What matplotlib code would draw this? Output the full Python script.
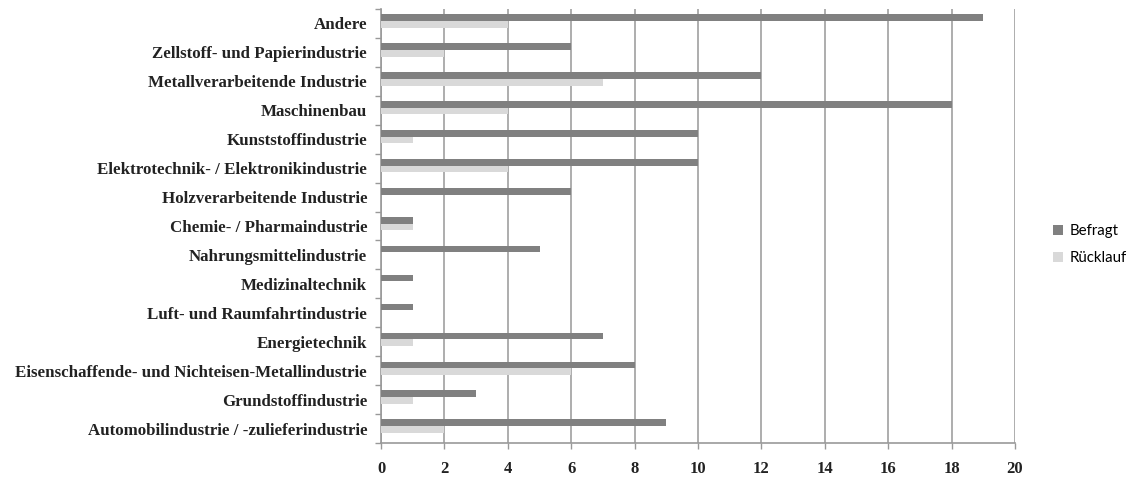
import matplotlib
matplotlib.use("Agg")
import matplotlib.pyplot as plt
import numpy as np

categories = [
    "Andere",
    "Zellstoff- und Papierindustrie",
    "Metallverarbeitende Industrie",
    "Maschinenbau",
    "Kunststoffindustrie",
    "Elektrotechnik- / Elektronikindustrie",
    "Holzverarbeitende Industrie",
    "Chemie- / Pharmaindustrie",
    "Nahrungsmittelindustrie",
    "Medizinaltechnik",
    "Luft- und Raumfahrtindustrie",
    "Energietechnik",
    "Eisenschaffende- und Nichteisen-Metallindustrie",
    "Grundstoffindustrie",
    "Automobilindustrie / -zulieferindustrie",
]
befragt = [19, 6, 12, 18, 10, 10, 6, 1, 5, 1, 1, 7, 8, 3, 9]
ruecklauf = [4, 2, 7, 4, 1, 4, 0, 1, 0, 0, 0, 1, 6, 1, 2]
xticks = [0, 2, 4, 6, 8, 10, 12, 14, 16, 18, 20]

fig = plt.figure(figsize=(11.33, 4.79), dpi=100)
ax = fig.add_axes([0.3363, 0.0752, 0.8959 - 0.3363, 0.9812 - 0.0752])

y = np.arange(len(categories))
h = 0.23
ax.barh(y - 0.2, befragt, height=h, color="#808080", label="Befragt", zorder=3)
ax.barh(y + 0.03, ruecklauf, height=h, color="#d9d9d9", label="Rücklauf", zorder=3)

ax.set_ylim(len(categories) - 0.5, -0.5)
ax.set_xlim(0, 20)
ax.set_xticks(xticks)
ax.set_xticklabels([str(t) for t in xticks], fontfamily="Liberation Serif",
                   fontweight="bold", fontsize=12, color="#222222")
ax.set_yticks(y)
ax.set_yticklabels(categories, fontfamily="Liberation Serif", fontweight="bold",
                   fontsize=12.2, color="#222222")
ax.tick_params(axis="y", which="major", length=0, pad=10)
ax.set_yticks(np.arange(-0.5, len(categories), 1.0), minor=True)
ax.tick_params(axis="y", which="minor", length=4, color="#999999", width=1)
ax.tick_params(axis="x", which="major", length=4, color="#999999", width=1, pad=9)

ax.grid(axis="x", color="#a0a0a0", linewidth=1.2, zorder=0)
for s in ["top", "right"]:
    ax.spines[s].set_visible(False)
ax.spines["left"].set_color("#999999")
ax.spines["bottom"].set_color("#999999")
ax.spines["left"].set_linewidth(1.2)
ax.spines["bottom"].set_linewidth(1.2)

leg = ax.legend(loc="center left", bbox_to_anchor=(1.038, 0.457), frameon=False,
                prop={"family": "Lato", "size": 10.8}, handlelength=0.7,
                handleheight=0.7, handletextpad=0.4, labelspacing=0.85)

fig.savefig("out.png", dpi=100)
